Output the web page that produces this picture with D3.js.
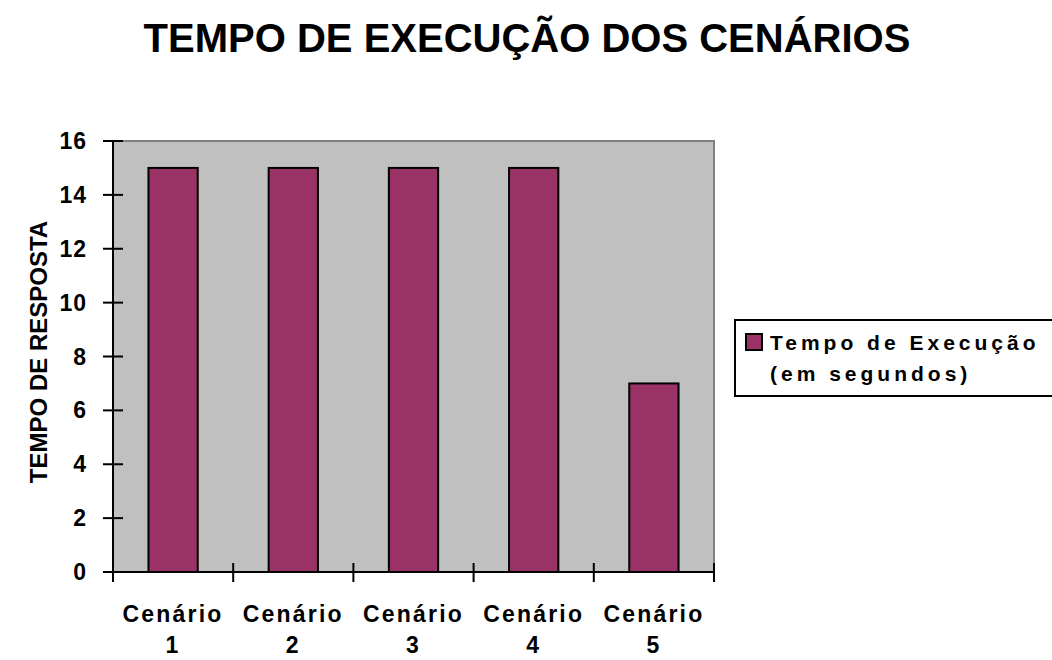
<!DOCTYPE html>
<html lang="pt">
<head>
  <meta charset="UTF-8">
  <title>Tempo de Execução dos Cenários</title>
  <script src="https://d3js.org/d3.v7.min.js"></script>
  <style>
    body { margin: 0; background: #fff; }
    svg text { font-family: "Liberation Sans", Arial, sans-serif; font-weight: bold; fill: #000; }
  </style>
</head>
<body>
  <svg id="chart" width="1052" height="660"></svg>

  <script>
    // Data
    const categories = ["Cenário 1", "Cenário 2", "Cenário 3", "Cenário 4", "Cenário 5"];
    const values = [15, 15, 15, 15, 7];
    const yTicks = [0, 2, 4, 6, 8, 10, 12, 14, 16];
    const seriesName = ["Tempo de Execução", "(em segundos)"];

    const width = 1052, height = 660;
    const plot = { left: 113, right: 714, top: 141, bottom: 572 };

    const svg = d3.select("#chart");

    const x = d3.scaleBand()
      .domain(categories)
      .range([plot.left, plot.right])
      .paddingInner(0.59)
      .paddingOuter(0.295);

    const y = d3.scaleLinear()
      .domain([0, 16])
      .range([plot.bottom, plot.top]);

    // Title
    svg.append("text")
      .attr("x", 527)
      .attr("y", 52)
      .attr("text-anchor", "middle")
      .style("font-size", "40px")
      .text("TEMPO DE EXECUÇÃO DOS CENÁRIOS");

    // Plot area background
    svg.append("rect")
      .attr("x", plot.left)
      .attr("y", plot.top)
      .attr("width", plot.right - plot.left)
      .attr("height", plot.bottom - plot.top)
      .attr("fill", "#c0c0c0");

    // gray top/right frame
    svg.append("path")
      .attr("d", `M${plot.left},${plot.top}H${plot.right}V${plot.bottom}`)
      .attr("fill", "none")
      .attr("stroke", "#808080")
      .attr("stroke-width", 2);

    // Bars
    svg.selectAll("rect.bar")
      .data(values)
      .enter().append("rect")
      .attr("class", "bar")
      .attr("x", (d, i) => x(categories[i]))
      .attr("y", d => y(d))
      .attr("width", x.bandwidth())
      .attr("height", d => y(0) - y(d))
      .attr("fill", "#993366")
      .attr("stroke", "#000")
      .attr("stroke-width", 2);

    // Y axis (ticks cross the line)
    const yAxis = svg.append("g");
    yAxis.append("line")
      .attr("x1", plot.left).attr("x2", plot.left)
      .attr("y1", plot.top).attr("y2", plot.bottom)
      .attr("stroke", "#000").attr("stroke-width", 2);
    yAxis.selectAll("line.tick")
      .data(yTicks)
      .enter().append("line")
      .attr("x1", plot.left - 10).attr("x2", plot.left + 10)
      .attr("y1", d => y(d)).attr("y2", d => y(d))
      .attr("stroke", "#000").attr("stroke-width", 2);
    yAxis.selectAll("text")
      .data(yTicks)
      .enter().append("text")
      .attr("x", 87)
      .attr("y", d => y(d) + 8)
      .attr("text-anchor", "end")
      .style("font-size", "23px")
      .style("letter-spacing", "1px")
      .text(d => d);

    // X axis
    const xAxis = svg.append("g");
    xAxis.append("line")
      .attr("x1", plot.left).attr("x2", plot.right)
      .attr("y1", plot.bottom).attr("y2", plot.bottom)
      .attr("stroke", "#000").attr("stroke-width", 2);
    const bounds = categories.map(c => x(c) - x.step() * x.paddingInner() / 2).concat([plot.right]);
    xAxis.selectAll("line.tick")
      .data(bounds)
      .enter().append("line")
      .attr("x1", d => d).attr("x2", d => d)
      .attr("y1", plot.bottom - 9).attr("y2", plot.bottom + 10)
      .attr("stroke", "#000").attr("stroke-width", 2);
    const labels = xAxis.selectAll("text")
      .data(categories)
      .enter().append("text")
      .attr("text-anchor", "middle")
      .style("font-size", "23px")
      .style("letter-spacing", "2.2px");
    labels.append("tspan")
      .attr("x", d => x(d) + x.bandwidth() / 2)
      .attr("y", 622)
      .text(d => d.split(" ")[0]);
    labels.append("tspan")
      .attr("x", d => x(d) + x.bandwidth() / 2)
      .attr("y", 653)
      .text(d => d.split(" ")[1]);

    // Y axis title
    svg.append("text")
      .attr("transform", "translate(47,352) rotate(-90)")
      .attr("text-anchor", "middle")
      .style("font-size", "24px")
      .text("TEMPO DE RESPOSTA");

    // Legend
    const legend = svg.append("g");
    legend.append("rect")
      .attr("x", 735).attr("y", 320)
      .attr("width", 330).attr("height", 76)
      .attr("fill", "#fff")
      .attr("stroke", "#000").attr("stroke-width", 2);
    legend.append("rect")
      .attr("x", 746).attr("y", 334)
      .attr("width", 16).attr("height", 16)
      .attr("fill", "#993366")
      .attr("stroke", "#000").attr("stroke-width", 2);
    legend.selectAll("text")
      .data(seriesName)
      .enter().append("text")
      .attr("x", 770)
      .attr("y", (d, i) => 350 + i * 31)
      .style("font-size", "21px")
      .style("letter-spacing", "4px")
      .text(d => d);
  </script>
</body>
</html>
